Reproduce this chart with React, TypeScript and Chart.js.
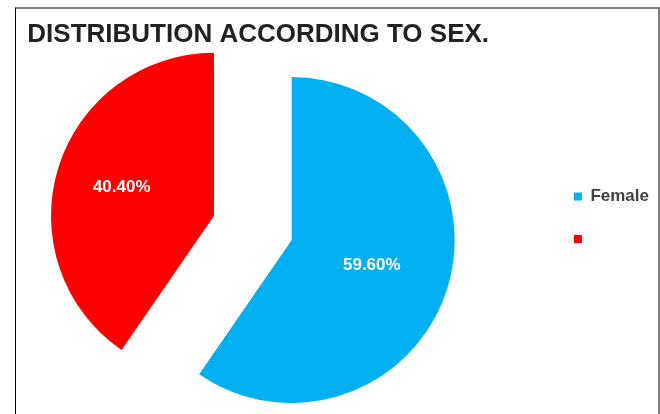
import React, { useEffect, useRef } from 'react';
import { Chart, registerables } from 'chart.js';

Chart.register(...registerables);

// ---- data ----
const TITLE = 'DISTRIBUTION ACCORDING TO SEX.';
const CATEGORIES = ['Female', ''];
const VALUES = [59.6, 40.4];
const COLORS = ['#00B0F0', '#FF0000'];

// ---- style ----
const EXPLODE = [24.56, 56.75]; // px each slice is pulled out along its mid-angle
const PIE_RADIUS = 163;
const LABEL_RADIUS = [0.515, 0.593];
const FONT = '"Liberation Sans", Arial, sans-serif';

const formatPct = (v: number) => v.toFixed(2) + '%';

const titlePlugin = {
  id: 'fixedTitle',
  afterDraw(chart: any) {
    const ctx = chart.ctx;
    ctx.save();
    ctx.font = `bold 26px ${FONT}`;
    ctx.fillStyle = '#222222';
    ctx.textAlign = 'left';
    ctx.textBaseline = 'alphabetic';
    ctx.fillText(TITLE, 47.3, 42);
    ctx.restore();
  },
};

// draw each arc element translated outwards (exploded pie) with straight radial edges
const explodePlugin = {
  id: 'explodeSlices',
  beforeDatasetDraw(chart: any, args: any) {
    const ctx = chart.ctx;
    args.meta.data.forEach((arc: any, i: number) => {
      const { startAngle, endAngle } = arc.getProps(['startAngle', 'endAngle'], true);
      const mid = (startAngle + endAngle) / 2;
      const d = EXPLODE[i] || 0;
      ctx.save();
      ctx.translate(Math.cos(mid) * d, Math.sin(mid) * d);
      arc.draw(ctx, chart.chartArea);
      ctx.restore();
    });
    return false;
  },
};

const valueLabelPlugin = {
  id: 'valueLabels',
  afterDatasetsDraw(chart: any) {
    const meta = chart.getDatasetMeta(0);
    const ctx = chart.ctx;
    ctx.save();
    ctx.font = `bold 17px ${FONT}`;
    ctx.fillStyle = '#ffffff';
    ctx.textAlign = 'center';
    ctx.textBaseline = 'middle';
    meta.data.forEach((arc: any, i: number) => {
      const { x, y, startAngle, endAngle, outerRadius } = arc.getProps(
        ['x', 'y', 'startAngle', 'endAngle', 'outerRadius'],
        true
      );
      const mid = (startAngle + endAngle) / 2;
      const d = (EXPLODE[i] || 0) + outerRadius * LABEL_RADIUS[i];
      ctx.fillText(formatPct(VALUES[i]), x + Math.cos(mid) * d, y + Math.sin(mid) * d);
    });
    ctx.restore();
  },
};

export default function App() {
  const ref = useRef<HTMLCanvasElement | null>(null);

  useEffect(() => {
    if (!ref.current) return;
    const chart = new Chart(ref.current, {
      type: 'pie',
      data: {
        labels: CATEGORIES,
        datasets: [
          {
            data: VALUES,
            backgroundColor: COLORS,
            borderWidth: 0,
            offset: 0,
            hoverOffset: 0,
            radius: PIE_RADIUS,
            clip: false,
          } as any,
        ],
      },
      options: {
        responsive: false,
        animation: false,
        radius: PIE_RADIUS,
        layout: { padding: { left: 8, top: 51.4, right: 21, bottom: 0 } },
        plugins: {
          title: { display: false },
          tooltip: { enabled: false },
          legend: {
            position: 'right',
            align: 'start',
            title: {
              display: true,
              text: '',
              font: { size: 10 },
              padding: { top: 99.1, bottom: 0 },
            },
            labels: {
              boxWidth: 8,
              boxHeight: 8,
              padding: 25.5,
              color: '#404040',
              font: { family: FONT, size: 17, weight: 'bold' },
            },
          },
        },
      } as any,
      plugins: [explodePlugin, titlePlugin, valueLabelPlugin],
    });
    return () => chart.destroy();
  }, []);

  return (
    <div
      style={{
        position: 'fixed',
        left: 0,
        top: 0,
        width: 660,
        height: 414,
        overflow: 'hidden',
        background: '#ffffff',
      }}
    >
      <div style={{ position: 'absolute', left: -20, top: 0, width: 700, height: 414 }}>
        <canvas ref={ref} width={700} height={414} />
      </div>
      <div
        style={{
          position: 'absolute',
          left: 15,
          top: 7,
          width: 645,
          height: 420,
          boxSizing: 'border-box',
          borderLeft: '1px solid #000000',
          borderTop: '2px solid #808080',
          borderRight: '2px solid #808080',
          pointerEvents: 'none',
        }}
      />
    </div>
  );
}
